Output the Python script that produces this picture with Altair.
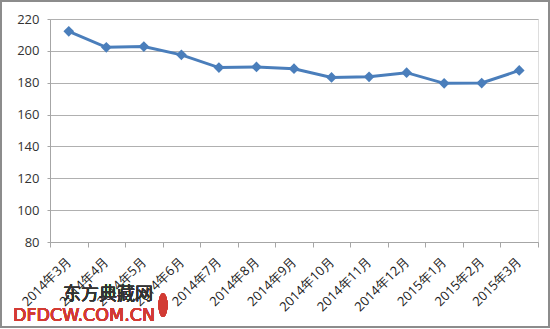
import altair as alt
import pandas as pd

months = ["2014年3月", "2014年4月", "2014年5月", "2014年6月", "2014年7月", "2014年8月",
          "2014年9月", "2014年10月", "2014年11月", "2014年12月", "2015年1月", "2015年2月", "2015年3月"]
values = [212.3, 202.2, 202.7, 197.5, 189.5, 189.9, 188.8, 183.3, 183.7, 186.3, 179.6, 179.8, 187.7]
y_ticks = [80, 100, 120, 140, 160, 180, 200, 220]

df = pd.DataFrame({"month": months, "value": values})

x = alt.X("month:N", sort=months, title=None,
          scale=alt.Scale(paddingInner=0, paddingOuter=0),
          axis=alt.Axis(labelAngle=-45, labelAlign="right", labelBaseline="middle",
                        labelFont="Open Sans", labelFontSize=13, labelColor="#1a1a1a",
                        labelPadding=12, tickBand="extent", tickSize=5, tickColor="#a6a6a6",
                        domainColor="#a6a6a6", grid=False, labelOverlap=False))
y = alt.Y("value:Q", title=None,
          scale=alt.Scale(domain=[80, 220], nice=False, zero=False),
          axis=alt.Axis(values=y_ticks,
                        labelFont="Open Sans", labelFontSize=13, labelColor="#333333",
                        labelPadding=8, tickSize=3, tickColor="#a6a6a6",
                        domainColor="#a6a6a6", gridColor="#b0b0b0", gridWidth=1))

line = alt.Chart(df).mark_line(color="#4a7ebb", strokeWidth=3).encode(x=x, y=y)
pts = alt.Chart(df).mark_point(shape="diamond", filled=True, size=115, color="#4a7ebb",
                               opacity=1).encode(x=x, y=y)

border = alt.Chart(df).mark_rect(fill=None, stroke="#8c8c8c", strokeWidth=2).encode(
    x=alt.value(-49), x2=alt.value(499), y=alt.value(-18), y2=alt.value(308))

wm1 = alt.Chart(df).mark_text(text="东方典藏网", font="Noto Sans CJK SC", fontSize=18,
                              fontWeight="normal", color="#333333", opacity=0.6,
                              align="left", baseline="middle").encode(
    x=alt.value(13), y=alt.value(276))
wm2 = alt.Chart(df).mark_text(text="DFDCW.COM.CN", font="DejaVu Sans", fontSize=17.5,
                              color="#d23b34", align="left", baseline="middle").encode(
    x=alt.value(-37), y=alt.value(297))
seal = alt.Chart(df).mark_point(
    shape="M-0.38,0 A0.38,1 0 1,0 0.38,0 A0.38,1 0 1,0 -0.38,0 Z",
    filled=True, size=560, color="#d23b34", opacity=1).encode(
    x=alt.value(113), y=alt.value(286))

chart = alt.layer(line, pts, border, wm1, wm2, seal).properties(
    width=488, height=223,
    autosize=alt.AutoSizeParams(type="none"),
    padding={"left": 50, "top": 19, "right": 12, "bottom": 87},
).configure_view(stroke=None).configure(background="white")

chart.save("out.html", embed_options={"renderer": "svg", "actions": False})
